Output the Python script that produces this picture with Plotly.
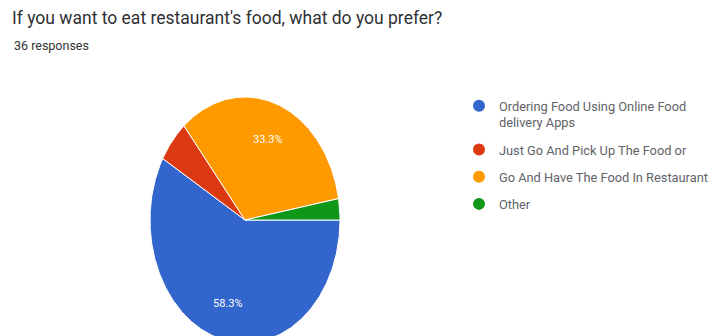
import numpy as np
import plotly.graph_objects as go

# Survey answers (36 responses)
categories = [
    "Ordering Food Using Online Food<br>delivery Apps",
    "Just Go And Pick Up The Food or",
    "Go And Have The Food In Restaurant",
    "Other",
]
counts = [21, 2, 12, 1]
colors = ["#3366cc", "#dc3912", "#ff9900", "#109618"]
title_text = "If you want to eat restaurant's food, what do you prefer?"
subtitle_text = "36 responses"

total = sum(counts)
shares = [c / total for c in counts]

fig = go.Figure()

# Wedges: start at 3 o'clock, run clockwise, drawn on a unit circle in data space
start_cw = 90.0  # degrees clockwise from 12 o'clock
for name, share, color in zip(categories, shares, colors):
    sweep = share * 360.0
    cw = np.linspace(start_cw, start_cw + sweep, max(int(sweep * 2), 4))
    ang = np.radians(90.0 - cw)
    xs = np.concatenate([[0.0], np.cos(ang), [0.0]])
    ys = np.concatenate([[0.0], np.sin(ang), [0.0]])
    fig.add_trace(go.Scatter(
        x=xs, y=ys, mode="lines", fill="toself", fillcolor=color,
        line=dict(color="white", width=1), showlegend=False, hoverinfo="skip",
    ))
    pct = share * 100
    if pct >= 10:
        mid = np.radians(90.0 - (start_cw + sweep / 2))
        fig.add_annotation(
            x=0.7 * np.cos(mid), y=0.7 * np.sin(mid), xref="x", yref="y",
            text=f"{pct:.1f}%", showarrow=False,
            font=dict(family="Roboto", size=11, color="white"),
        )
    start_cw += sweep

# Legend entries with round swatches
for i, (name, color) in enumerate(zip(categories, colors)):
    fig.add_trace(go.Scatter(
        x=[None], y=[None], mode="markers", name=name, legendgroup=f"g{i}",
        marker=dict(symbol="circle", size=12, color=color),
    ))

fig.update_layout(
    width=717, height=336,
    margin=dict(l=0, r=0, t=0, b=0, autoexpand=False),
    paper_bgcolor="white", plot_bgcolor="white",
    xaxis=dict(domain=[150 / 717, 340 / 717], range=[-1, 1], visible=False, fixedrange=True),
    yaxis=dict(domain=[0, (336 - 97) / 336], range=[-(336 - 220) / 123, 1], visible=False, fixedrange=True),
    showlegend=True,
    legend=dict(
        x=459 / 717, y=(336 - 91) / 336, xanchor="left", yanchor="top",
        font=dict(family="Roboto", size=12.8, color="#5f6368"),
        valign="top", tracegroupgap=7.5, itemwidth=30,
        bgcolor="rgba(0,0,0,0)",
    ),
    title=dict(
        text=title_text, x=12 / 717, xanchor="left", y=1 - 18 / 336, yanchor="middle",
        font=dict(family="Roboto", size=17.5, color="#303134"),
    ),
)

fig.add_annotation(
    text=subtitle_text, xref="paper", yref="paper", x=12 / 717, y=1 - 46 / 336,
    xanchor="left", yanchor="middle", showarrow=False,
    font=dict(family="Roboto", size=12.5, color="#303134"),
)

fig.write_html("out.html")
